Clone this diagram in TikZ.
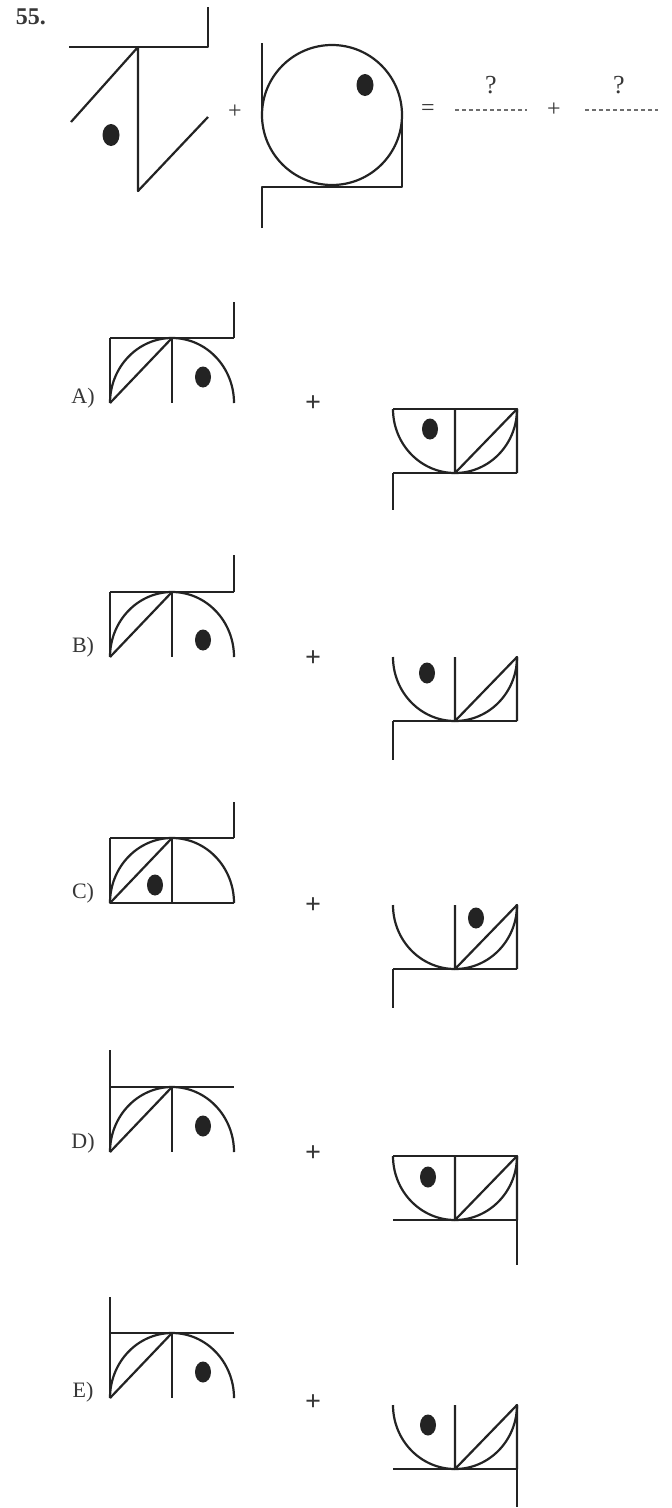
\documentclass[tikz,border=0pt]{standalone}
\usepackage{fontspec}
\setmainfont{Liberation Serif}
\usepackage{tikz}
\usetikzlibrary{calc}
\definecolor{qline}{RGB}{35,35,35}
\definecolor{qtext}{RGB}{55,55,55}
\definecolor{qdots}{RGB}{110,110,110}

\begin{document}
\begin{tikzpicture}[x=1pt, y=-1pt, line join=round,
  fig/.style={qline, line width=2.2pt},
  blob/.style={fill=qline, draw=none},
  blank/.style={qdots, line width=1.4pt, dash pattern=on 4pt off 3pt},
  lbl/.style={font=\fontsize{22}{24}\selectfont, text=qtext, inner sep=0pt},
  sign/.style={font=\bfseries\fontsize{28}{30}\selectfont, text=qtext, inner sep=0pt},
  small sign/.style={font=\fontsize{24}{26}\selectfont, text=qtext, inner sep=0pt},
  upfig/.pic={
    \draw[fig] (0,65) arc[start angle=180, end angle=0, x radius=62pt, y radius=65pt];
    \draw[fig] (62,0) -- (62,65);
    \draw[fig] (0,65) -- (62,0);
    \draw[fig] (0,0) -- (124,0);
  },
  downfig/.pic={
    \draw[fig] (0,0) arc[start angle=180, end angle=360, x radius=62pt, y radius=64pt];
    \draw[fig] (62,0) -- (62,64) -- (124,0) -- (124,64);
    \draw[fig] (0,64) -- (124,64);
  }]

\useasboundingbox (0,0) rectangle (672,1508);
\fill[white] (0,0) rectangle (672,1508);

%% Question number
\node[font=\bfseries\fontsize{24}{26}\selectfont, text=qtext] (qnum) at (31,17) {55.};

%% Figure 1
\draw[fig] (69,47) -- (208,47) -- (208,7);
\draw[fig] (71,122) -- (138,47) -- (138,191) -- (208,117);
\fill[blob] (111,135) ellipse [x radius=8.5pt, y radius=11pt];

\node[small sign] (p0) at (235,112) {+};

%% Figure 2: circle in its frame
\draw[fig] (332,115) circle [radius=70pt];
\draw[fig] (262,43) -- (262,115);
\draw[fig] (262,228) -- (262,187) -- (402,187) -- (402,115);
\fill[blob] (365,85) ellipse [x radius=8.5pt, y radius=11pt];

%% = ? + ?
\node[small sign] (eq) at (428,110) {=};
\node[small sign, font=\fontsize{26}{28}\selectfont] (q1) at (491,85) {?};
\draw[blank] (455,110) -- (527,110);
\node[small sign] (p1) at (554,110) {+};
\node[small sign, font=\fontsize{26}{28}\selectfont] (q2) at (619,85) {?};
\draw[blank] (585,110) -- (658,110);

%% Option A
\node[lbl] (la) at (83,398) {A)};
\pic at (110,338) {upfig};
\draw[fig] (110,338) -- (110,403);
\draw[fig] (234,338) -- (234,302);
\fill[blob] (203,377) ellipse [x radius=8pt, y radius=10.5pt];
\node[sign] (pa) at (313,404) {+};
\pic at (393,409) {downfig};
\draw[fig] (393,409) -- (517,409);
\draw[fig] (393,473) -- (393,510);
\fill[blob] (430,429) ellipse [x radius=8pt, y radius=10.5pt];

%% Option B
\node[lbl] (lb) at (83,647) {B)};
\pic at (110,592) {upfig};
\draw[fig] (110,592) -- (110,657);
\draw[fig] (234,592) -- (234,555);
\fill[blob] (203,640) ellipse [x radius=8pt, y radius=10.5pt];
\node[sign] (pb) at (313,659) {+};
\pic at (393,657) {downfig};
\draw[fig] (393,721) -- (393,760);
\fill[blob] (427,673) ellipse [x radius=8pt, y radius=10.5pt];

%% Option C
\node[lbl] (lc) at (83,893) {C)};
\pic at (110,838) {upfig};
\draw[fig] (110,838) -- (110,903) -- (234,903);
\draw[fig] (234,838) -- (234,802);
\fill[blob] (155,885) ellipse [x radius=8pt, y radius=10.5pt];
\node[sign] (pc) at (313,906) {+};
\pic at (393,905) {downfig};
\draw[fig] (393,969) -- (393,1008);
\fill[blob] (476,918) ellipse [x radius=8pt, y radius=10.5pt];

%% Option D
\node[lbl] (ld) at (83,1143) {D)};
\pic at (110,1087) {upfig};
\draw[fig] (110,1050) -- (110,1152);
\fill[blob] (203,1126) ellipse [x radius=8pt, y radius=10.5pt];
\node[sign] (pd) at (313,1154) {+};
\pic at (393,1156) {downfig};
\draw[fig] (393,1156) -- (517,1156);
\draw[fig] (517,1220) -- (517,1265);
\fill[blob] (428,1177) ellipse [x radius=8pt, y radius=10.5pt];

%% Option E
\node[lbl] (le) at (83,1392) {E)};
\pic at (110,1333) {upfig};
\draw[fig] (110,1297) -- (110,1398);
\fill[blob] (203,1372) ellipse [x radius=8pt, y radius=10.5pt];
\node[sign] (pe) at (313,1403) {+};
\pic at (393,1405) {downfig};
\draw[fig] (517,1469) -- (517,1507);
\fill[blob] (428,1425) ellipse [x radius=8pt, y radius=10.5pt];

\end{tikzpicture}
\end{document}
